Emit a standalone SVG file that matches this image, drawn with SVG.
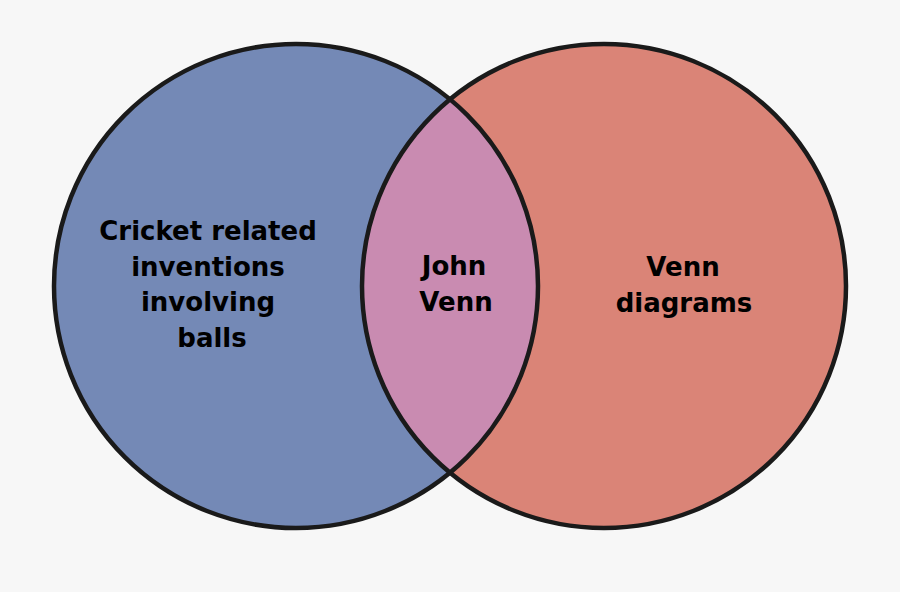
<svg xmlns="http://www.w3.org/2000/svg" width="900" height="592" viewBox="0 0 900 592">
<style>
.lbl{font-family:"DejaVu Sans","Liberation Sans",sans-serif;font-weight:bold;font-size:26px;fill:#000;text-anchor:middle}
.ring{fill:none;stroke:#1a1a1a;stroke-width:4.5}
</style>
<defs>
<clipPath id="clipL"><circle cx="296" cy="286" r="242"/></clipPath>
</defs>
<rect width="900" height="592" fill="#f7f7f7"/>
<g id="set-left">
<circle cx="296" cy="286" r="242" fill="#7489b6"/>
</g>
<g id="set-right">
<circle cx="604" cy="286" r="242" fill="#da8477"/>
</g>
<g id="intersection">
<circle cx="604" cy="286" r="242" fill="#c98bb1" clip-path="url(#clipL)"/>
</g>
<g id="outlines">
<circle class="ring" cx="296" cy="286" r="242"/>
<circle class="ring" cx="604" cy="286" r="242"/>
</g>
<g id="labels">
<text class="lbl" x="208" y="240">Cricket related</text>
<text class="lbl" x="208" y="275.5">inventions</text>
<text class="lbl" x="208" y="311">involving</text>
<text class="lbl" x="212" y="346.5">balls</text>
<text class="lbl" x="454" y="275">John</text>
<text class="lbl" x="456" y="311">Venn</text>
<text class="lbl" x="683" y="276">Venn</text>
<text class="lbl" x="684" y="312">diagrams</text>
</g>
</svg>
